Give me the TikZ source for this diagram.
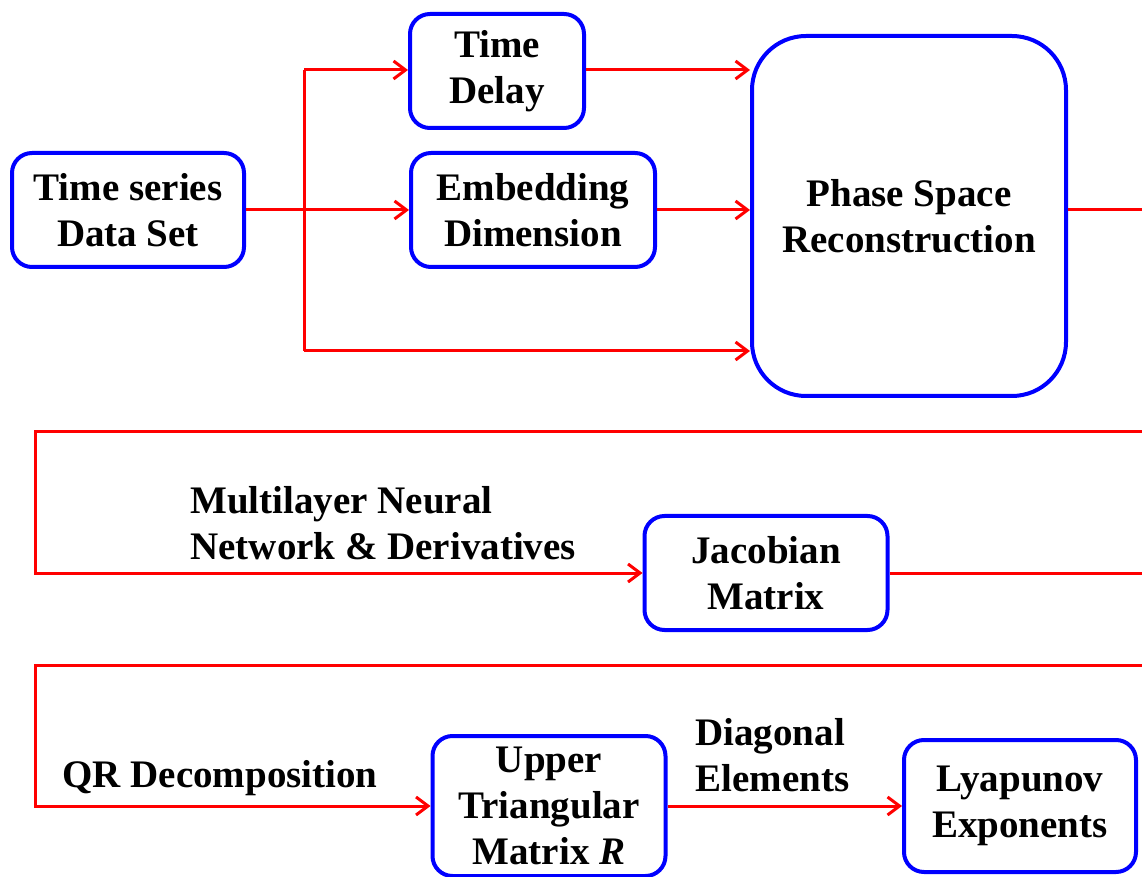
\documentclass[tikz,border=0pt]{standalone}
\usepackage{fontspec}
\setmainfont{Liberation Serif}
\usetikzlibrary{arrows.meta,positioning}
\definecolor{boxblue}{HTML}{0000FF}
\definecolor{linkred}{HTML}{FF0000}

\begin{document}
\begin{tikzpicture}[x=.5pt,y=-.5pt,
  box/.style={draw=boxblue,line width=2pt,rounded corners=10pt,align=center,inner sep=0pt,
    font=\fontsize{19.5}{23}\selectfont\bfseries},
  link/.style={draw=linkred,line width=1.5pt},
  arr/.style={link,-{Straight Barb[length=6pt,width=9pt]}},
  lbl/.style={align=left,inner sep=0pt,font=\fontsize{19.5}{23}\selectfont\bfseries}]
\useasboundingbox (0,0) rectangle (1142,877);
% boxes
\node[box,minimum width=116pt,minimum height=57pt] (data) at (128,210) {Time series\\Data Set};
\node[box,minimum width=87pt,minimum height=57pt] (delay) at (497,71) {Time\\Delay};
\node[box,minimum width=122pt,minimum height=57pt] (embed) at (533,210) {Embedding\\Dimension};
\node[box,rounded corners=27pt,minimum width=157pt,minimum height=180pt] (phase) at (909,216) {Phase Space\\Reconstruction};
\node[box,minimum width=121.5pt,minimum height=57pt] (jacob) at (766,573) {Jacobian\\Matrix};
\node[box,minimum width=116.5pt,minimum height=70pt] (upper) at (549,806) {Upper\\Triangular\\Matrix \textit{R}};
\node[box,minimum width=116pt,minimum height=66pt] (lyap) at (1020,806) {Lyapunov\\Exponents};
% labels
\node[lbl,anchor=west] (mlnn) at (190,523) {Multilayer Neural\\Network \& Derivatives};
\node[lbl,anchor=west] (qr) at (62,778) {QR Decomposition};
\node[lbl,anchor=west] (diag) at (695,755) {Diagonal\\Elements};
% branch points
\coordinate (split) at (304,210);
\coordinate (top) at (304,70);
\coordinate (bot) at (304,351);
\coordinate (out1) at (1142,210);
\coordinate (in2) at (1142,432);
\coordinate (left2) at (35,432);
\coordinate (out2) at (1142,573);
\coordinate (in3) at (1142,665);
\coordinate (left3) at (35,665);
% connectors
\draw[link] (data.east) -- (split);
\draw[link] (top) -- (bot);
\draw[arr] (top) -- (top -| delay.west);
\draw[arr] (split) -- (embed.west);
\draw[arr] (bot) -- (bot -| phase.west);
\draw[arr] (top -| delay.east) -- (top -| phase.west);
\draw[arr] (embed.east) -- (embed.east -| phase.west);
\draw[link] (phase.east |- out1) -- (out1);
\draw[arr] (in2) -- (left2) |- (jacob.west);
\draw[link] (jacob.east) -- (out2);
\draw[arr] (in3) -- (left3) |- (upper.west);
\draw[arr] (upper.east) -- (lyap.west);
\end{tikzpicture}
\end{document}
